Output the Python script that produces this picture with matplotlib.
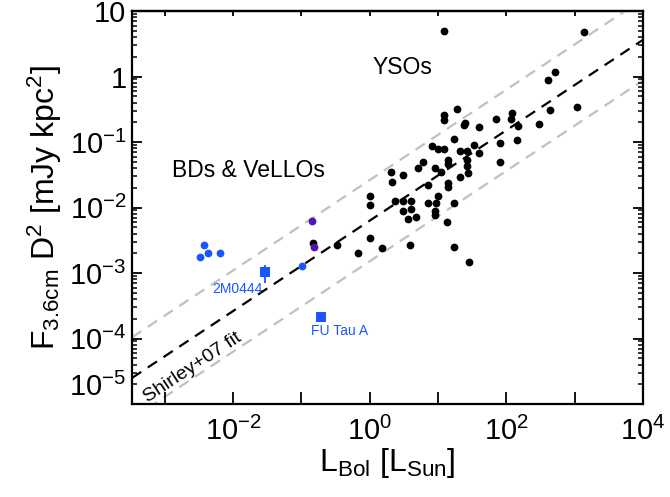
import numpy as np
import matplotlib
matplotlib.use("Agg")
import matplotlib.pyplot as plt
from matplotlib.ticker import FixedLocator, FixedFormatter, LogLocator, NullFormatter, NullLocator
import matplotlib.transforms as mtrans

plt.rcParams['font.family'] = ['Liberation Sans', 'DejaVu Sans']
plt.rcParams['mathtext.fontset'] = 'custom'
plt.rcParams['mathtext.rm'] = 'Liberation Sans'
plt.rcParams['mathtext.it'] = 'Liberation Sans:italic'
plt.rcParams['mathtext.bf'] = 'Liberation Sans:bold'

# ---------------- data ----------------
lbol_yso = [12.2, 1355, 510, 403, 18.8, 12.2, 12.2, 120, 116, 70, 24.7, 23.8, 39.5, 147, 298,
            431, 1070, 17.0, 142, 8.12, 9.93, 12.2, 33.4, 20.8, 26.4, 39.5, 80.1, 6.0, 5.07,
            8.97, 13.9, 13.9, 26.4, 26.4, 27.3, 11.0, 20.8, 80.1, 2.04, 3.06, 2.11, 7.1, 13.9,
            13.9, 9.93, 1.0, 1.0, 2.34, 3.06, 4.0, 7.1, 9.29, 17.0, 3.06, 4.0, 3.62, 4.74, 8.97,
            8.97, 13.4, 1.0, 0.331, 0.671, 1.51, 3.87, 17.0, 28.2, 0.148]
f_yso = [4.95, 4.78, 1.17, 0.886, 0.319, 0.258, 0.217, 0.277, 0.224, 0.224, 0.195, 0.182, 0.170,
         0.176, 0.188, 0.308, 0.342, 0.111, 0.107, 0.0869, 0.0782, 0.0782, 0.0899, 0.0730,
         0.0730, 0.0680, 0.0966, 0.0495, 0.0401, 0.0401, 0.0531, 0.0461, 0.0531, 0.0430,
         0.0337, 0.0348, 0.0292, 0.0495, 0.0348, 0.0313, 0.0245, 0.0221, 0.0237, 0.0206,
         0.0150, 0.0150, 0.0109, 0.0126, 0.0126, 0.0126, 0.0117, 0.0117, 0.0117, 0.00885,
         0.00948, 0.00667, 0.00716, 0.00885, 0.00768, 0.00601, 0.00342, 0.00267, 0.00202,
         0.00241, 0.00267, 0.00250, 0.00147, 0.00287]

lbol_bd = [0.00377, 0.00330, 0.00431, 0.00646, 0.102]
f_bd = [0.00267, 0.00175, 0.00202, 0.00202, 0.00128]

lbol_purple = [0.143, 0.153]
f_purple = [0.00622, 0.00250]

lbol_2m0444 = [0.0294]
f_2m0444 = [0.00104]
f_2m0444_err_lo = [0.00033]
f_2m0444_err_hi = [0.00028]

lbol_futau = [0.193]
f_futau = [0.000213]

# Shirley+07 fit parameters: log F = a + b log L, scatter band +/- s dex
fit_a = -2.2
fit_b = 0.69
fit_s = 0.62

x_tick_vals = [1e-3, 1e-2, 1e-1, 1e0, 1e1, 1e2, 1e3, 1e4]
x_tick_labels = ['', r'$\mathregular{10^{-2}}$', '', r'$\mathregular{10^{0}}$', '',
                 r'$\mathregular{10^{2}}$', '', r'$\mathregular{10^{4}}$']
y_tick_vals = [1e-5, 1e-4, 1e-3, 1e-2, 1e-1, 1e0, 1e1]
y_tick_labels = ['', r'$\mathregular{10^{-4}}$', r'$\mathregular{10^{-3}}$',
                 r'$\mathregular{10^{-2}}$', r'$\mathregular{10^{-1}}$', '1', '10']

# ---------------- figure ----------------
W, H = 670, 497
fig = plt.figure(figsize=(W / 100, H / 100), dpi=100)
ax = fig.add_axes([132 / W, 1 - 404 / H, (643 - 132) / W, (404 - 11) / H])
ax.set_xscale('log')
ax.set_yscale('log')
ax.set_xlim(3.3e-4, 1e4)
ax.set_ylim(1e-5, 10)

blue = '#1a56ff'
purple = '#5214b4'

# fit lines
xl = np.array(ax.get_xlim())
yfit = 10 ** (fit_a + fit_b * np.log10(xl))
ax.plot(xl, yfit * 10 ** fit_s, color='#c0c0c0', ls=(0, (5, 3.5)), lw=1.6, zorder=1)
ax.plot(xl, yfit / 10 ** fit_s, color='#c0c0c0', ls=(0, (5, 3.5)), lw=1.6, zorder=1)
ax.plot(xl, yfit, color='black', ls=(0, (5, 3.5)), lw=1.6, zorder=1)

# points
ax.plot(lbol_yso, f_yso, 'o', color='black', ms=5.6, mew=0, zorder=3)
ax.plot(lbol_bd, f_bd, 'o', color=blue, ms=5.6, mew=0, zorder=3)
ax.plot(lbol_purple, f_purple, 'o', color=purple, ms=5.6, mew=0, zorder=4)
ax.errorbar(lbol_2m0444, f_2m0444, yerr=[f_2m0444_err_lo, f_2m0444_err_hi], fmt='s',
            color=blue, ms=7, mew=0, elinewidth=1.3, capsize=0, zorder=4)
ax.plot(lbol_futau, f_futau, 's', color=blue, ms=7, mew=0, zorder=4)

# text annotations
ax.text(0.53, 0.855, 'YSOs', transform=ax.transAxes, fontsize=16.5, ha='center', va='center')
ax.text(0.227, 0.595, 'BDs & VeLLOs', transform=ax.transAxes, fontsize=16.5, ha='center', va='center')
ax.text(0.207, 0.293, '2M0444', transform=ax.transAxes, fontsize=10, color=blue, ha='center', va='center')
ax.text(0.407, 0.186, 'FU Tau A', transform=ax.transAxes, fontsize=10, color=blue, ha='center', va='center')
ax.text(0.118, 0.092, 'Shirley+07 fit', transform=ax.transAxes, fontsize=14, rotation=33.5,
        ha='center', va='center', rotation_mode='anchor')

# axes styling
for sp in ax.spines.values():
    sp.set_linewidth(1.6)

ax.xaxis.set_major_locator(FixedLocator(x_tick_vals))
ax.xaxis.set_major_formatter(FixedFormatter(x_tick_labels))
ax.xaxis.set_minor_locator(NullLocator())
ax.tick_params(axis='x', which='major', direction='in', length=9, width=1.3,
               labelsize=21, pad=9, top=False)
secx = ax.secondary_xaxis('top')
secx.set_xscale('log')
secx.xaxis.set_major_locator(FixedLocator(x_tick_vals))
secx.xaxis.set_minor_locator(NullLocator())
secx.tick_params(axis='x', which='major', direction='in', length=3.5, width=1.3, labeltop=False)
secx.spines['top'].set_linewidth(1.6)

ax.yaxis.set_major_locator(FixedLocator(y_tick_vals))
ax.yaxis.set_major_formatter(FixedFormatter(y_tick_labels))
ax.yaxis.set_minor_locator(LogLocator(base=10, subs=np.arange(2, 10), numticks=20))
ax.yaxis.set_minor_formatter(NullFormatter())
ax.tick_params(axis='y', which='major', direction='in', length=7.5, width=1.3,
               labelsize=21, pad=4, right=True)
ax.tick_params(axis='y', which='minor', direction='in', length=3.8, width=1.1, right=True)

# bottom y label shifted upward (as in reference)
trans = mtrans.blended_transform_factory(ax.transAxes, ax.transData) + \
    mtrans.ScaledTranslation(-6 / 100, 2 / 100, fig.dpi_scale_trans)
ax.text(0, 1e-5, r'$\mathregular{10^{-5}}$', transform=trans, fontsize=21, ha='right', va='bottom')

ax.set_xlabel(r'$\mathregular{L_{Bol}\ [L_{Sun}]}$', fontsize=23, labelpad=0)
ax.set_ylabel(r'$\mathregular{F_{3.6cm}\ D^{2}\ [mJy\ kpc^{2}]}$', fontsize=23, labelpad=4)

fig.savefig('out.png', dpi=100)
